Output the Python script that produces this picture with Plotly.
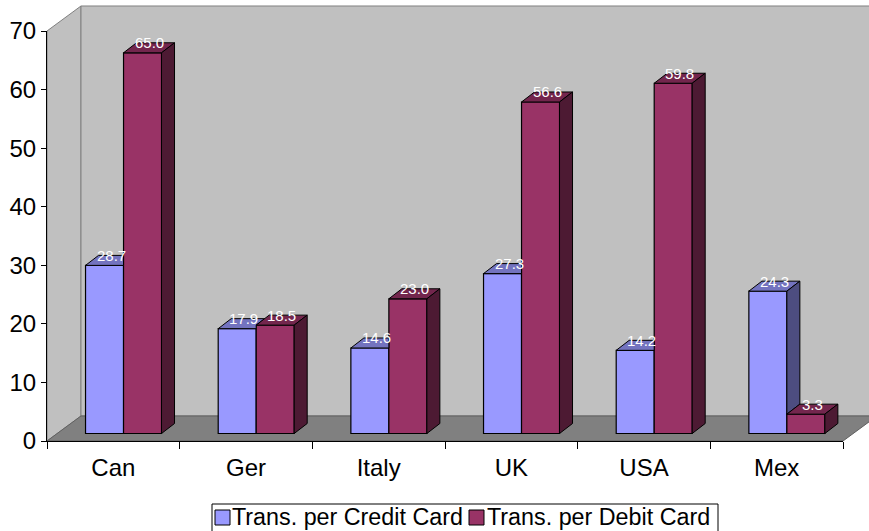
import plotly.graph_objects as go

# ---------------- data ----------------
categories = ["Can", "Ger", "Italy", "UK", "USA", "Mex"]
credit = [28.7, 17.9, 14.6, 27.3, 14.2, 24.3]
debit = [65.0, 18.5, 23.0, 56.6, 59.8, 3.3]
series_names = ["Trans. per Credit Card", "Trans. per Debit Card"]
y_ticks = [0, 10, 20, 30, 40, 50, 60, 70]

# ---------------- styling / geometry ----------------
W, H = 869, 531
ML, MR, MT, MB = 47, 26, 31, 90
PW, PH = W - ML - MR, H - MT - MB
YMAX = 70
XS = PW / len(categories)      # px per category
YS = PH / YMAX                 # px per unit

WDX, WDY = 34, 25              # wall/floor depth (px)
OX, OY = 10.2, 7.5             # bar plane offset (px)
BDX, BDY = 13, 10              # bar depth (px)
ox, oy = OX / XS, OY / YS
dxu, dyu = BDX / XS, BDY / YS
BARGAP = 1 - 76 / XS
hw = (1 - BARGAP) / 4          # half bar width (x units)

FONT = "Liberation Sans, Arial, sans-serif"
C_FRONT = ["#9999FF", "#993366"]
C_TOP = ["#7373BF", "#73264D"]
C_SIDE = ["#4D4D80", "#4D1A33"]


def PX(x):
    return (x - ML) / PW


def PY(y):
    return (H - MB - y) / PH


def P(x, y):
    return f"{PX(x):.5f},{PY(y):.5f}"


def path(pts):
    return "M" + " L".join(P(x, y) for x, y in pts) + " Z"


x0, x1 = ML, ML + PW
yb, yt = H - MB, MT
shapes = [
    dict(type="path", xref="paper", yref="paper", layer="below",
         path=path([(x0, yt), (x0 + WDX, yt - WDY), (x0 + WDX, yb - WDY), (x0, yb)]),
         fillcolor="#C0C0C0", line=dict(color="#808080", width=1)),
    dict(type="path", xref="paper", yref="paper", layer="below",
         path=path([(x0 + WDX, yt - WDY), (x1 + WDX, yt - WDY), (x1 + WDX, yb - WDY), (x0 + WDX, yb - WDY)]),
         fillcolor="#C0C0C0", line=dict(color="#808080", width=1)),
    dict(type="path", xref="paper", yref="paper", layer="below",
         path=path([(x0, yb), (x0 + WDX, yb - WDY), (x1 + WDX, yb - WDY), (x1, yb)]),
         fillcolor="#808080", line=dict(color="#606060", width=1)),
]

# ---- manual legend (box, swatches, labels) ----
LEG_L, LEG_R, LEG_T = 212, 718, 504
shapes.append(dict(type="rect", xref="paper", yref="paper", layer="above",
                   x0=PX(LEG_L), x1=PX(LEG_R), y0=PY(LEG_T), y1=PY(545),
                   fillcolor="white", line=dict(color="black", width=1)))
legend_swatch_x = [215, 469]
legend_text_x = [231, 486]

fig = go.Figure()

# dummy trace to establish the categorical front axis
fig.add_trace(go.Scatter(x=categories, y=[0] * len(categories), mode="markers",
                         marker=dict(opacity=0), showlegend=False, hoverinfo="skip",
                         xaxis="x", yaxis="y"))

pos = list(range(len(categories)))
for k, vals in enumerate([credit, debit]):
    fig.add_trace(go.Bar(x=pos, y=vals, name=series_names[k], xaxis="x2", yaxis="y2",
                         marker=dict(color=C_FRONT[k], line=dict(color="black", width=1.2)),
                         offsetgroup=str(k), showlegend=False))


def poly(pts, color):
    xs_ = [p[0] for p in pts] + [pts[0][0]]
    ys_ = [p[1] for p in pts] + [pts[0][1]]
    fig.add_trace(go.Scatter(x=xs_, y=ys_, fill="toself", fillcolor=color, mode="lines",
                             line=dict(color="black", width=1), showlegend=False,
                             hoverinfo="skip", xaxis="x2", yaxis="y2"))


annotations = []
LBL = dict(family=FONT, size=15, color="white")
for i in pos:
    v, d = credit[i], debit[i]
    c = i - hw
    # credit top & side faces (clipped by debit bar where hidden)
    if d >= v:
        pts = [(c - hw, v), (c + hw, v)]
        if d < v + dyu:
            pts += [(c + hw, d), (c + hw + dxu * (v + dyu - d) / dyu, v + dyu)]
        else:
            pts += [(c + hw, v + dyu)]
        pts += [(c - hw + dxu, v + dyu)]
        poly(pts, C_TOP[0])
    else:
        poly([(c - hw, v), (c + hw, v), (c + hw + dxu, v + dyu), (c - hw + dxu, v + dyu)], C_TOP[0])
        poly([(c + hw, d), (c + hw, v), (c + hw + dxu, v + dyu), (c + hw + dxu, d + dyu)], C_SIDE[0])
    annotations.append(dict(x=c + dxu / 2, y=v + dyu, xref="x2", yref="y2", text=f"{v:.1f}",
                            showarrow=False, yanchor="middle", xanchor="center", font=LBL))
    # debit top & side
    c = i + hw
    poly([(c - hw, d), (c + hw, d), (c + hw + dxu, d + dyu), (c - hw + dxu, d + dyu)], C_TOP[1])
    poly([(c + hw, 0), (c + hw, d), (c + hw + dxu, d + dyu), (c + hw + dxu, dyu)], C_SIDE[1])
    annotations.append(dict(x=c + dxu / 2, y=d + dyu, xref="x2", yref="y2", text=f"{d:.1f}",
                            showarrow=False, yanchor="middle", xanchor="center", font=LBL))

for k in range(2):
    sx = legend_swatch_x[k]
    shapes.append(dict(type="rect", xref="paper", yref="paper", layer="above",
                       x0=PX(sx), x1=PX(sx + 15), y0=PY(510), y1=PY(525),
                       fillcolor=C_FRONT[k], line=dict(color="black", width=1)))
    annotations.append(dict(x=PX(legend_text_x[k]), y=PY(517), xref="paper", yref="paper",
                            text=series_names[k], showarrow=False, xanchor="left",
                            yanchor="middle", borderpad=0,
                            font=dict(family=FONT, size=23.3, color="black")))

fig.update_layout(
    width=W, height=H,
    margin=dict(l=ML, r=MR, t=MT, b=MB, pad=0, autoexpand=False),
    paper_bgcolor="white", plot_bgcolor="rgba(0,0,0,0)",
    font=dict(family=FONT, size=24, color="black"),
    barmode="group", bargap=BARGAP, bargroupgap=0,
    shapes=shapes, annotations=annotations,
    xaxis=dict(type="category", categoryorder="array", categoryarray=categories,
               range=[-0.5, len(categories) - 0.5], tickson="boundaries",
               ticks="outside", ticklen=7, tickcolor="black", showline=True,
               linecolor="black", linewidth=1, showgrid=False, zeroline=False,
               tickfont=dict(size=24), ticklabelstandoff=5),
    yaxis=dict(range=[0, YMAX], tickvals=y_ticks, ticks="outside", ticklen=5,
               tickcolor="black", showline=True, linecolor="black", linewidth=1,
               showgrid=False, zeroline=False, tickfont=dict(size=24)),
    xaxis2=dict(overlaying="x", range=[-0.5 - ox, len(categories) - 0.5 - ox],
                visible=False, showgrid=False, zeroline=False),
    yaxis2=dict(overlaying="y", range=[-oy, YMAX - oy], visible=False,
                showgrid=False, zeroline=False),
    showlegend=False,
)

fig.write_html("out.html")
